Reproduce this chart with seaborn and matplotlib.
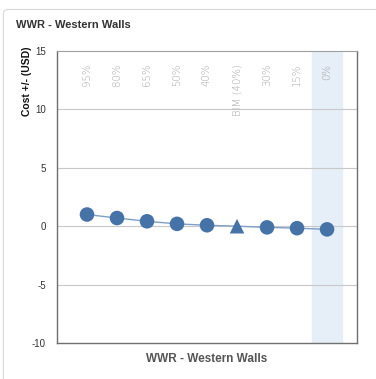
import matplotlib
matplotlib.use("Agg")
import matplotlib.pyplot as plt
from matplotlib.patches import FancyBboxPatch
import seaborn as sb
import pandas as pd

# данные графика
labels = ["95%", "80%", "65%", "50%", "40%", "BIM (40%)", "30%", "15%", "0%"]
costs = [1.0, 0.7, 0.42, 0.2, 0.08, 0.0, -0.1, -0.17, -0.27]
kinds = ["option", "option", "option", "option", "option", "bim", "option", "option", "option"]
y_ticks = [-10, -5, 0, 5, 10, 15]
highlight = "0%"

df = pd.DataFrame({"x": range(len(labels)), "label": labels, "cost": costs, "kind": kinds})

sb.set_style("white")
plt.rcParams["font.family"] = ["Liberation Sans Narrow", "Liberation Sans", "DejaVu Sans"]

fig = plt.figure(figsize=(3.76, 3.79), dpi=100)
card = FancyBboxPatch((0.009, -0.05), 1.2, 1.025, boxstyle="round,pad=0,rounding_size=0.012",
                      transform=fig.transFigure, facecolor="white", edgecolor="#d8d8d8", lw=0.8,
                      zorder=-5)
fig.patches.append(card)
fig.text(0.042, 0.925, "WWR - Western Walls", fontsize=8, fontweight="bold", color="#333333")

ax = fig.add_axes([0.1516, 0.095, 0.798, 0.7704])
ax.set_facecolor("none")

hx = labels.index(highlight)
ax.axvspan(hx - 0.5, hx + 0.5, color="#e6eef8", zorder=0)

sb.lineplot(data=df, x="x", y="cost", color="#7f9fc6", lw=1.0, ax=ax, zorder=2)
sb.scatterplot(data=df, x="x", y="cost", style="kind", markers={"option": "o", "bim": "^"},
               s=110, color="#4572a7", edgecolor="none", legend=False, ax=ax, zorder=3)

for i, lab in enumerate(labels):
    ax.text(i, 13.9, lab, rotation=90, ha="center", va="top", fontsize=7.3,
            color="#a4a4a4", family=["DejaVu Sans"], fontweight="light", zorder=4)

ax.set_xlim(-1, len(labels))
ax.set_ylim(-10, 15)
ax.set_yticks(y_ticks)
ax.set_yticklabels([str(t) for t in y_ticks], fontsize=7, color="#333333")
ax.set_xticks([])
ax.tick_params(axis="y", length=0, pad=8)
for t in y_ticks[1:-1]:
    ax.axhline(t, color="#c8c8c8", lw=0.8, zorder=1)

for side in ["left", "bottom", "right"]:
    ax.spines[side].set_color("#707070")
    ax.spines[side].set_linewidth(1.0)
ax.spines["top"].set_color("#a0a0a0")
ax.spines["top"].set_linewidth(0.8)

ax.set_xlabel("WWR - Western Walls", fontsize=8.5, fontweight="bold", color="#555555", labelpad=7)
ax.set_ylabel("Cost +/- (USD)", fontsize=7.5, fontweight="bold", color="#111111", labelpad=4)
ax.yaxis.set_label_coords(-0.115, 1.015, transform=ax.transAxes)
ax.yaxis.label.set_va("top")
ax.yaxis.label.set_ha("right")

plt.savefig("out.png", dpi=100)
plt.close()
